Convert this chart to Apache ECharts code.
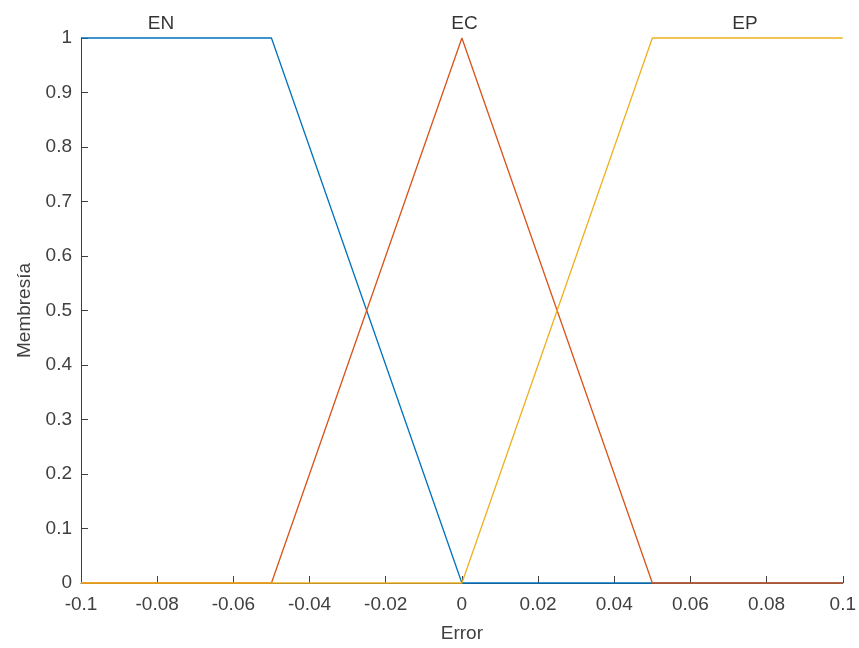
<!DOCTYPE html>
<html>
<head>
<meta charset="utf-8">
<script src="https://cdn.jsdelivr.net/npm/echarts@6/dist/echarts.min.js"></script>
<style>html,body{margin:0;padding:0;background:#fff}#c{width:859px;height:648px}</style>
</head>
<body>
<div id="c"></div>
<script>
// Membership functions (breakpoints)
const enX = [-0.1, -0.05, 0, 0.1];
const enY = [1, 1, 0, 0];
const ecX = [-0.1, -0.05, 0, 0.05, 0.1];
const ecY = [0, 0, 1, 0, 0];
const epX = [-0.1, 0, 0.05, 0.1];
const epY = [0, 0, 1, 1];
// MF label names and their x positions (placed at membership = 1)
const mfNames = ['EN', 'EC', 'EP'];
const mfLabelX = [-0.079, 0.0007, 0.0743];
const mfLabelY = [1, 1, 1];
const xTicks = { min: -0.1, max: 0.1, interval: 0.02 };
const yTicks = { min: 0, max: 1, interval: 0.1 };

const FONT = "'Liberation Sans', Arial, Helvetica, sans-serif";
const zip = (xs, ys) => xs.map((x, i) => [x, ys[i]]);

const chart = echarts.init(document.getElementById('c'), null, { renderer: 'canvas' });
chart.setOption({
  animation: false,
  backgroundColor: '#ffffff',
  textStyle: { fontFamily: FONT },
  grid: { left: 81, right: 14, top: 38, bottom: 64, containLabel: false },
  xAxis: {
    type: 'value',
    min: xTicks.min, max: xTicks.max, interval: xTicks.interval,
    name: 'Error', nameLocation: 'middle', nameGap: 41,
    nameTextStyle: { color: '#404040', fontSize: 19, fontFamily: FONT },
    axisLine: { show: true, onZero: false, lineStyle: { color: '#404040', width: 1 } },
    axisTick: { show: true, inside: true, length: 7, lineStyle: { color: '#404040' } },
    axisLabel: { color: '#404040', fontSize: 19, fontFamily: FONT, margin: 12,
      formatter: v => String(+v.toFixed(2)) },
    splitLine: { show: false }
  },
  yAxis: {
    type: 'value',
    min: yTicks.min, max: yTicks.max, interval: yTicks.interval,
    name: 'Membresía', nameLocation: 'middle', nameGap: 47, nameRotate: 90,
    nameTextStyle: { color: '#404040', fontSize: 19, fontFamily: FONT },
    axisLine: { show: true, onZero: false, lineStyle: { color: '#404040', width: 1 } },
    axisTick: { show: true, inside: true, length: 7, lineStyle: { color: '#404040' } },
    axisLabel: { color: '#404040', fontSize: 19, fontFamily: FONT, margin: 9,
      formatter: v => String(+v.toFixed(1)) },
    splitLine: { show: false }
  },
  series: [
    { name: 'EN', type: 'line', data: zip(enX, enY), symbol: 'none', clip: false,
      lineStyle: { color: '#0072BD', width: 1.3 }, z: 2 },
    { name: 'EC', type: 'line', data: zip(ecX, ecY), symbol: 'none', clip: false,
      lineStyle: { color: '#D95319', width: 1.3 }, z: 3 },
    { name: 'EP', type: 'line', data: zip(epX, epY), symbol: 'none', clip: false,
      lineStyle: { color: '#EDB120', width: 1.3 }, z: 4 },
    { name: 'labels', type: 'scatter', symbolSize: 0, silent: true, clip: false,
      data: mfNames.map((n, i) => ({ value: [mfLabelX[i], mfLabelY[i]], name: n })),
      label: { show: true, position: 'top', distance: 5, formatter: p => p.name,
        color: '#000000', fontSize: 19, fontFamily: FONT }, z: 5 }
  ]
});
</script>
</body>
</html>
